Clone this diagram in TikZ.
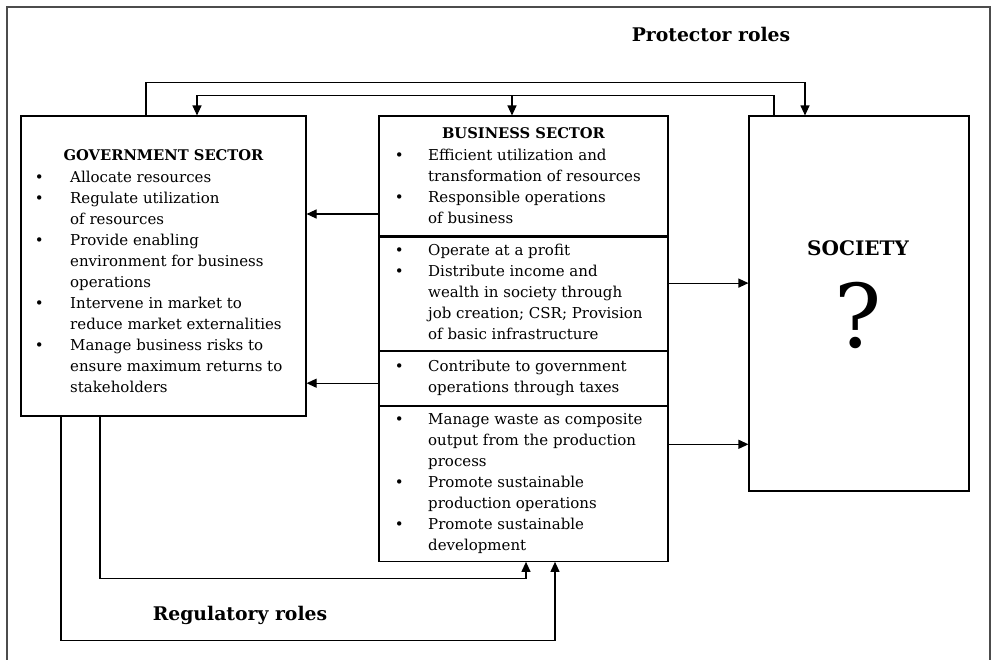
\documentclass[tikz,border=0pt]{standalone}
\usepackage{fontspec}
\setmainfont{DejaVu Serif}
\usetikzlibrary{arrows.meta, positioning}

\newcommand{\bu}{\makebox[0pt]{\textbullet}}

\begin{document}
\begin{tikzpicture}[
    x=1pt, y=-1pt,
    box/.style={rectangle, draw, line width=1.1pt, inner sep=0pt},
    arrow/.style={-{Triangle[length=10pt, width=9pt]}, line width=1.1pt},
    body/.style={inner sep=0pt, anchor=base west, font=\fontsize{15}{21}\selectfont},
    head/.style={inner sep=0pt, anchor=base, font=\fontsize{14.7}{21}\selectfont\bfseries},
    role/.style={inner sep=0pt, font=\fontsize{18.8}{22}\selectfont\bfseries}
]
\useasboundingbox (0,0) rectangle (992,659);

% Frame
\draw[line width=1.6pt, black!70] (7,670) -- (7,7) -- (990,7) -- (990,670);

% Boxes
\node[box, minimum width=285pt, minimum height=300pt] (gov) at (163.5,266) {};
\node[box, minimum width=289pt, minimum height=120pt] (bus1) at (523.5,176) {};
\node[box, minimum width=289pt, minimum height=113pt, below=0pt of bus1] (bus2) {};
\node[box, minimum width=289pt, minimum height=54pt, below=0pt of bus2] (bus3) {};
\node[box, minimum width=289pt, minimum height=155pt, below=0pt of bus3] (bus4) {};
\node[box, minimum width=220pt, minimum height=375pt] (society) at (859,303.5) {};

% Texts
\node[head] (govhead) at (163.5,160) {GOVERNMENT SECTOR};
\node[body] (govlist) at (39,182) {\begin{tabular}[t]{@{}l@{\hspace{31pt}}l@{}}
\bu & Allocate resources\\
\bu & Regulate utilization\\
    & of resources\\
\bu & Provide enabling\\
    & environment for business\\
    & operations\\
\bu & Intervene in market to\\
    & reduce market externalities\\
\bu & Manage business risks to\\
    & ensure maximum returns to\\
    & stakeholders
\end{tabular}};

\node[head] (bushead) at (523.5,138) {BUSINESS SECTOR};
\node[body] (buslist1) at (399,160) {\begin{tabular}[t]{@{}l@{\hspace{29pt}}l@{}}
\bu & Efficient utilization and\\
    & transformation of resources\\
\bu & Responsible operations\\
    & of business
\end{tabular}};
\node[body] (buslist2) at (399,255) {\begin{tabular}[t]{@{}l@{\hspace{29pt}}l@{}}
\bu & Operate at a profit\\
\bu & Distribute income and\\
    & wealth in society through\\
    & job creation; CSR; Provision\\
    & of basic infrastructure
\end{tabular}};
\node[body] (buslist3) at (399,371) {\begin{tabular}[t]{@{}l@{\hspace{29pt}}l@{}}
\bu & Contribute to government\\
    & operations through taxes
\end{tabular}};
\node[body] (buslist4) at (399,424) {\begin{tabular}[t]{@{}l@{\hspace{29pt}}l@{}}
\bu & Manage waste as composite\\
    & output from the production\\
    & process\\
\bu & Promote sustainable\\
    & production operations\\
\bu & Promote sustainable\\
    & development
\end{tabular}};

\node[inner sep=0pt, font=\fontsize{20}{22}\selectfont\bfseries] (soclabel) at (858,248) {SOCIETY};
\node[inner sep=0pt, font=\fontsize{88}{90}\selectfont] (query) at (858,315) {?};

\node[role] (protect) at (711,34) {Protector roles};
\node[role] (regulate) at (240,615) {Regulatory roles};

% Protector roles
\draw[arrow] ([xshift=-17.5pt]gov.north) -- ++(0,-33) -| ([xshift=-54pt]society.north);
\draw[arrow] ([xshift=-85pt]society.north) -- ++(0,-20) -| ([xshift=33.5pt]gov.north);
\draw[arrow] ([xshift=-11.5pt, yshift=20pt]bus1.north) -- ([xshift=-11.5pt]bus1.north);

% Business to government and society
\draw[arrow] ([yshift=-38pt]bus1.west) coordinate (b1) -- (b1 -| gov.east);
\draw[arrow] ([yshift=-5pt]bus3.west) coordinate (b3) -- (b3 -| gov.east);
\draw[arrow] ([yshift=10.5pt]bus2.east) coordinate (b2) -- (b2 -| society.west);
\draw[arrow] ([yshift=39.5pt]bus4.east) coordinate (b4) -- (b4 -| society.west);

% Regulatory roles
\draw[arrow] ([xshift=-63.5pt]gov.south) -- ++(0,162) -| ([xshift=2.5pt]bus4.south);
\draw[arrow] ([xshift=-102.5pt]gov.south) -- ++(0,224) -| ([xshift=31.5pt]bus4.south);

\end{tikzpicture}
\end{document}
